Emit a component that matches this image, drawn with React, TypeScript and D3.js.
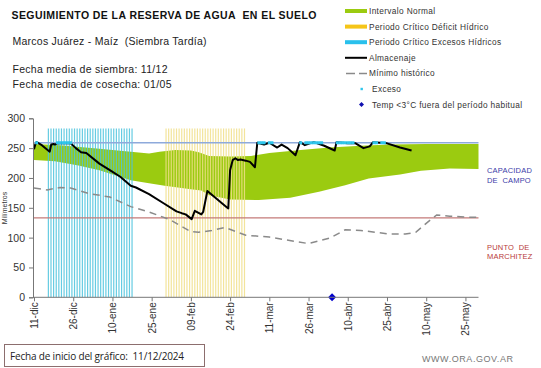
import React, { useEffect, useRef } from 'react';
import * as d3 from 'd3';

// days counted from 11-dic-2024 (chart start)
const startDate = new Date(2024, 11, 11);
const endDate = new Date(2025, 4, 30);

const tickLabels = ['11-dic', '26-dic', '10-ene', '25-ene', '09-feb', '24-feb', '11-mar', '26-mar', '10-abr', '25-abr', '10-may', '25-may'];
const tickDays = [0, 15, 30, 45, 60, 75, 90, 105, 120, 135, 150, 165];
const yTicks = [0, 50, 100, 150, 200, 250, 300];

const capacidadCampo = 259;
const puntoMarchitez = 133;

// intervalo normal (upper / lower bounds)
const normalUpper: [number, number][] = [
  [0, 257], [10, 255], [25, 249], [37, 244], [44, 241], [48, 244], [54, 247], [60, 246], [63, 243],
  [67, 237], [75, 236], [83, 237], [90, 242], [102, 247], [113, 251], [125, 254], [136, 256], [150, 257], [170, 257],
];
const normalLower: [number, number][] = [
  [0, 230], [8, 228], [17, 221], [25, 213], [37, 196], [44, 191], [50, 187], [60, 181], [64, 179], [67, 171],
  [75, 164], [86, 163], [98, 167], [109, 177], [119, 188], [128, 199], [140, 206], [148, 212], [159, 216], [170, 215],
];

const minimoHistorico: [number, number][] = [
  [0, 183], [5, 180], [10, 184], [14, 183], [21, 174], [29, 168], [37, 152], [44, 143], [52, 130], [60, 110],
  [63, 109], [68, 112], [73, 117], [81, 104], [90, 101], [105, 90], [113, 99], [119, 113], [125, 112], [136, 106],
  [142, 106], [146, 109], [150, 124], [154, 138], [159, 136], [167, 134], [170, 134],
];

const almacenaje: [number, number][] = [
  [0, 248], [0.5, 256], [1, 260], [3, 255], [6, 244], [6.6, 256], [7.5, 257], [8, 256], [9, 258], [14, 258],
  [16, 250], [18, 243], [20, 242], [25, 224], [29, 213], [33, 202], [37, 187], [39, 184], [44, 173], [49.4, 158],
  [54.5, 144], [56.5, 141], [58, 139], [60.3, 131], [61.5, 145], [64, 139], [64.7, 143], [66.3, 178], [73.7, 151],
  [74.3, 149], [75, 213], [76, 230], [77, 233], [78, 230], [79, 231], [81, 229], [82.6, 227], [84.5, 218],
  [85.4, 259], [88, 256], [90, 259], [93, 251], [94.7, 256], [97, 250], [100, 238], [101.7, 260], [103.6, 255],
  [105.5, 258], [107, 260], [111, 254], [115, 246], [115.7, 260], [120, 258], [123, 258], [126, 250],
  [128.4, 253], [129.7, 260], [135, 258], [140, 251], [144.4, 246],
];

const excesoDays = [1, 9, 10, 11, 12, 13, 14, 86, 87, 88, 90, 91, 102, 104, 105, 106, 107, 108, 109, 110, 116, 117, 118, 119, 120, 121, 122, 130, 131, 133, 134];
const tempBajaDays = [114];

const periodoExcesos: [number, number] = [5.5, 37.7];
const periodoDeficit: [number, number] = [50.5, 80.7];
const periodoTop = 283;

const legendItems = [
  'Intervalo Normal',
  'Periodo Crítico Déficit Hídrico',
  'Periodo Crítico Excesos Hídricos',
  'Almacenaje',
  'Mínimo histórico',
  'Exceso',
  'Temp <3°C fuera del período habitual',
];

const toDate = (d: number) => new Date(startDate.getTime() + d * 864e5);

function App() {
  const ref = useRef<SVGSVGElement>(null);

  useEffect(() => {
    const svg = d3.select(ref.current);
    svg.selectAll('*').remove();

    const x = d3.scaleTime().domain([startDate, endDate]).range([34, 478.5]);
    const y = d3.scaleLinear().domain([0, 300]).range([297.3, 118.3]);
    const font = 'Liberation Sans, Arial, sans-serif';

    svg.append('rect').attr('width', 541).attr('height', 368).attr('fill', '#fff');

    // titles
    svg.append('text').attr('x', 11.5).attr('y', 19).attr('font-family', font).attr('font-weight', 'bold')
      .attr('font-size', 10.5).attr('textLength', 305).attr('fill', '#111').style('white-space', 'pre')
      .text('SEGUIMIENTO DE LA RESERVA DE AGUA  EN EL SUELO');
    svg.append('text').attr('x', 12.5).attr('y', 44.5).attr('font-family', font).attr('font-size', 10.5)
      .attr('textLength', 194).attr('fill', '#222').style('white-space', 'pre').text('Marcos Juárez - Maíz  (Siembra Tardía)');
    svg.append('text').attr('x', 12.5).attr('y', 73).attr('font-family', font).attr('font-size', 10.5)
      .attr('textLength', 155).attr('fill', '#222').text('Fecha media de siembra: 11/12');
    svg.append('text').attr('x', 12.5).attr('y', 87.5).attr('font-family', font).attr('font-size', 10.5)
      .attr('textLength', 159).attr('fill', '#222').text('Fecha media de cosecha: 01/05');

    // intervalo normal band
    const line = d3.line<[number, number]>().x(d => x(toDate(d[0]))).y(d => y(d[1]));
    const band = normalUpper.concat(normalLower.slice().reverse());
    svg.append('path').attr('d', line(band) + 'Z').attr('fill', '#9bcb10');

    // critical periods, one stripe per day
    const stripes = (period: [number, number], color: string) => {
      const days = d3.range(period[0], period[1] + 0.01, 1);
      svg.append('g').selectAll('line').data(days).join('line')
        .attr('x1', d => x(toDate(d))).attr('x2', d => x(toDate(d)))
        .attr('y1', y(0)).attr('y2', y(periodoTop))
        .attr('stroke', color).attr('stroke-width', 1.2).attr('opacity', 0.85);
    };
    stripes(periodoExcesos, '#4cc4de');
    stripes(periodoDeficit, '#f1e08a');

    // reference lines
    svg.append('line').attr('x1', 33).attr('x2', 478.5).attr('y1', y(capacidadCampo)).attr('y2', y(capacidadCampo))
      .attr('stroke', '#8eaadb').attr('stroke-width', 1.5);
    svg.append('line').attr('x1', 33).attr('x2', 478.5).attr('y1', y(puntoMarchitez)).attr('y2', y(puntoMarchitez))
      .attr('stroke', '#c47a78').attr('stroke-width', 1.2);

    svg.append('path').attr('d', line(minimoHistorico)).attr('fill', 'none')
      .attr('stroke', '#8a8a8a').attr('stroke-width', 1.5).attr('stroke-dasharray', '7,5');

    svg.append('path').attr('d', line(almacenaje)).attr('fill', 'none')
      .attr('stroke', '#000').attr('stroke-width', 2).attr('stroke-linejoin', 'round');

    svg.append('g').selectAll('rect').data(excesoDays).join('rect')
      .attr('x', d => x(toDate(d)) - 1.5).attr('y', y(capacidadCampo) - 1.5)
      .attr('width', 3).attr('height', 3).attr('fill', '#2fc6ec');

    svg.append('g').selectAll('path').data(tempBajaDays).join('path')
      .attr('d', d3.symbol(d3.symbolDiamond2, 40))
      .attr('transform', d => `translate(${x(toDate(d))},${y(0)})`).attr('fill', '#0000cc');

    // axes
    const yAxis = svg.append('g').attr('transform', 'translate(33,0)')
      .call(d3.axisLeft(y).tickValues(yTicks).tickSize(4).tickPadding(4));
    yAxis.selectAll('text').attr('font-family', font).attr('font-size', 10.5).attr('fill', '#333');
    yAxis.selectAll('line, path').attr('stroke', '#777');

    const xAxis = svg.append('g').attr('transform', `translate(0,${y(0)})`)
      .call(d3.axisBottom(x).tickValues(tickDays.map(toDate)).tickSize(4)
        .tickFormat((_, i) => tickLabels[i]).tickSizeOuter(0));
    xAxis.select('.domain').attr('d', `M33,0H478.5`);
    xAxis.selectAll('line, path').attr('stroke', '#777');
    xAxis.selectAll('text').attr('font-family', font).attr('font-size', 10).attr('fill', '#333')
      .attr('transform', 'rotate(-90)').attr('text-anchor', 'end').attr('x', -5).attr('y', 0).attr('dy', '0.35em');

    svg.append('text').attr('transform', 'translate(7,208) rotate(-90)').attr('text-anchor', 'middle')
      .attr('font-family', font).attr('font-size', 7).attr('fill', '#333').text('Milímetros');

    // right side labels
    const side = (lines: string[], y0: number, color: string) => {
      lines.forEach((t, i) => svg.append('text').attr('x', 487).attr('y', y0 + i * 9.5).attr('font-family', font)
        .attr('font-size', 7.5).attr('letter-spacing', 0.2).attr('fill', color).style('white-space', 'pre').text(t));
    };
    side(['CAPACIDAD', 'DE  CAMPO'], 173, '#3a3aa8');
    side(['PUNTO  DE', 'MARCHITEZ'], 249.5, '#b83a3a');

    // legend
    const lg = svg.append('g');
    legendItems.forEach((t, i) => {
      const cy = 11 + i * 15.6;
      if (i < 3) {
        lg.append('rect').attr('x', 345).attr('y', cy - 2).attr('width', 22).attr('height', 4)
          .attr('fill', ['#9bcb10', '#f5c518', '#29c0ec'][i]);
      } else if (i === 3) {
        lg.append('line').attr('x1', 345).attr('x2', 367).attr('y1', cy).attr('y2', cy).attr('stroke', '#000').attr('stroke-width', 2);
      } else if (i === 4) {
        lg.append('line').attr('x1', 346).attr('x2', 367).attr('y1', cy).attr('y2', cy).attr('stroke', '#8a8a8a')
          .attr('stroke-width', 1.5).attr('stroke-dasharray', '9,4');
      } else if (i === 5) {
        lg.append('rect').attr('x', 360.5).attr('y', cy - 1.2).attr('width', 2.4).attr('height', 2.4).attr('fill', '#2fc6ec');
      } else {
        lg.append('path').attr('d', d3.symbol(d3.symbolDiamond2, 16)).attr('transform', `translate(361.5,${cy})`).attr('fill', '#1010b0');
      }
      lg.append('text').attr('x', i < 5 ? 369 : 372).attr('y', cy).attr('dy', '0.35em').attr('font-family', font)
        .attr('font-size', 8.3).attr('letter-spacing', 0.35).attr('fill', '#333').text(t);
    });

    // footer
    svg.append('rect').attr('x', 4.5).attr('y', 344.5).attr('width', 200).attr('height', 22)
      .attr('fill', '#fff').attr('stroke', '#8c6e6e');
    svg.append('text').attr('x', 10).attr('y', 359.5).attr('font-family', 'Open Sans, sans-serif').attr('font-size', 10)
      .attr('textLength', 174).attr('fill', '#222').style('white-space', 'pre').text('Fecha de inicio del gráfico:  11/12/2024');
    svg.append('text').attr('x', 422).attr('y', 362).attr('font-family', font).attr('font-size', 9)
      .attr('textLength', 91).attr('fill', '#777').text('WWW.ORA.GOV.AR');
  }, []);

  return (
    <svg ref={ref} width={541} height={368} style={{ position: 'absolute', left: 0, top: 0 }} />
  );
}

export default App;
